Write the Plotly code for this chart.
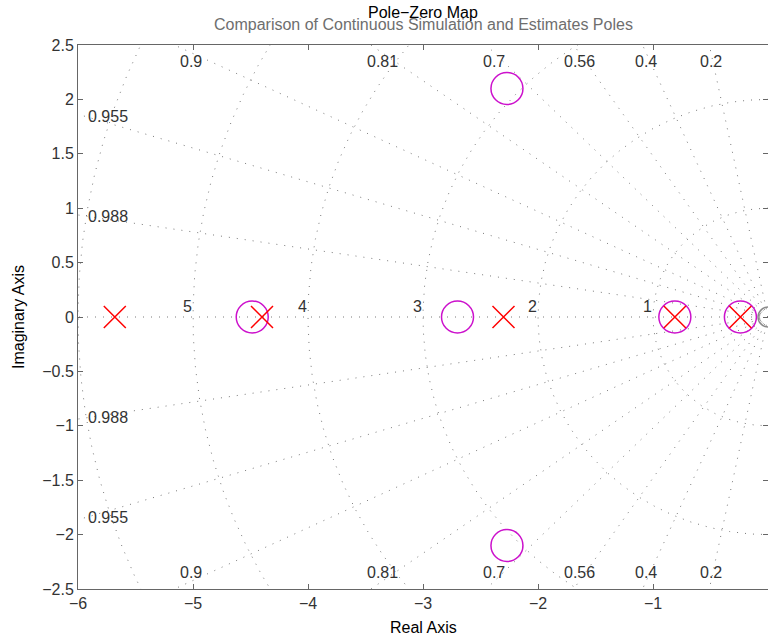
import numpy as np
import plotly.graph_objects as go

# Estimated poles (red x) and zeros (magenta o)
pole_re = [-5.68, -4.40, -2.30, -0.81, -0.24]
pole_im = [0.0, 0.0, 0.0, 0.0, 0.0]
zero_re = [-4.485, -2.70, -2.27, -2.27, -0.81, -0.24]
zero_im = [0.0, 0.0, 2.10, -2.10, 0.0, 0.0]
# Simulated system zero at the origin (grey)
sim_zero_re = [0.0]
sim_zero_im = [0.0]

# s-plane grid: damping ratios and natural frequencies
zeta_vals = [0.2, 0.4, 0.56, 0.7, 0.81, 0.9, 0.955, 0.988]
zeta_labels = ["0.2", "0.4", "0.56", "0.7", "0.81", "0.9", "0.955", "0.988"]
wn_vals = [1, 2, 3, 4, 5, 6]

x_ticks = [-6, -5, -4, -3, -2, -1, 0]
y_ticks = [-2.5, -2, -1.5, -1, -0.5, 0, 0.5, 1, 1.5, 2, 2.5]

X_MIN, X_MAX = -6.0, 0.0
Y_MIN, Y_MAX = -2.5, 2.5

FONT = "Liberation Sans, Arial, Helvetica, sans-serif"
GRID_STYLE = dict(color="#7a7a7a", width=1, dash="1px,7px")

fig = go.Figure()

# constant-damping rays (both half planes) plus the real axis
ray_x, ray_y = [], []
R = 20.0
for z in zeta_vals:
    for sgn in (1, -1):
        ray_x += [0.0, -R * z, None]
        ray_y += [0.0, sgn * R * np.sqrt(1 - z * z), None]
ray_x += [0.0, -R, None]
ray_y += [0.0, 0.0, None]
fig.add_trace(go.Scatter(x=ray_x, y=ray_y, mode="lines", line=GRID_STYLE,
                         hoverinfo="skip"))

# constant natural-frequency semicircles
th = np.linspace(np.pi / 2, 3 * np.pi / 2, 600)
circ_x, circ_y = [], []
for wn in wn_vals:
    circ_x += list(wn * np.cos(th)) + [None]
    circ_y += list(wn * np.sin(th)) + [None]
fig.add_trace(go.Scatter(x=circ_x, y=circ_y, mode="lines", line=GRID_STYLE,
                         hoverinfo="skip"))

# zeros, then poles on top
fig.add_trace(go.Scatter(x=sim_zero_re, y=sim_zero_im, mode="markers",
                         marker=dict(symbol="circle-open", size=20, color="#8a8a8a",
                                     line=dict(width=1.5, color="#8a8a8a"))))
fig.add_trace(go.Scatter(x=zero_re, y=zero_im, mode="markers",
                         marker=dict(symbol="circle-open", size=32, color="#cc11cc",
                                     line=dict(width=1.5, color="#cc11cc"))))
fig.add_trace(go.Scatter(x=pole_re, y=pole_im, mode="markers",
                         marker=dict(symbol="x-thin-open", size=22, color="#ff0000",
                                     line=dict(width=1.5, color="#ff0000"))))

annotations = []
label_font = dict(family=FONT, size=16, color="#333333")

# damping labels along the top/bottom edges or the left edge
for z, lab in zip(zeta_vals, zeta_labels):
    slope = np.tan(np.arccos(z))
    x_top = -Y_MAX / slope
    if x_top >= X_MIN:
        xl = -2.43 / slope
        for yv in (2.344, -2.344):
            annotations.append(dict(x=xl, y=yv, xref="x", yref="y", text=lab,
                                    showarrow=False, font=label_font,
                                    xanchor="center", yanchor="middle"))
    else:
        yl = -X_MIN * slope
        for yv, ys in ((yl, -2), (-yl, 2)):
            annotations.append(dict(x=X_MIN, y=yv, xref="x", yref="y", text=lab,
                                    showarrow=False, font=label_font,
                                    xanchor="left", yanchor="middle",
                                    xshift=8, yshift=ys))

# natural-frequency labels on the real axis
for wn in wn_vals:
    if -wn > X_MIN:
        annotations.append(dict(x=-wn, y=0, xref="x", yref="y", text=str(wn),
                                showarrow=False, font=label_font,
                                xanchor="right", yanchor="bottom", xshift=1))

# titles
L, T, B, H, W = 78, 45, 48, 637, 768
plot_h = H - T - B


def py(px):
    return (H - B - px) / plot_h


annotations += [
    dict(x=0.5, y=py(12), xref="paper", yref="paper", text="Pole\u2212Zero Map",
         showarrow=False, font=dict(family=FONT, size=16, color="#000000"),
         xanchor="center", yanchor="middle"),
    dict(x=0.5, y=py(25), xref="paper", yref="paper",
         text="Comparison of Continuous Simulation and Estimates Poles",
         showarrow=False, font=dict(family=FONT, size=16, color="#6e6e6e"),
         xanchor="center", yanchor="middle"),
    dict(x=0.5, y=py(627), xref="paper", yref="paper", text="Real Axis",
         showarrow=False, font=dict(family=FONT, size=16, color="#000000"),
         xanchor="center", yanchor="middle"),
    dict(x=(18 - L) / (W - L), y=0.5, xref="paper", yref="paper", text="Imaginary Axis",
         showarrow=False, textangle=-90, font=dict(family=FONT, size=16, color="#000000"),
         xanchor="center", yanchor="middle"),
]

axis_common = dict(showline=True, linecolor="#666666", linewidth=1, mirror="ticks",
                   ticks="inside", ticklen=5, tickcolor="#666666", showgrid=False,
                   zeroline=False, tickfont=dict(family=FONT, size=16, color="#333333"),
                   automargin=False)

fig.update_layout(
    width=W, height=H,
    margin=dict(l=L, r=0, t=T, b=B),
    paper_bgcolor="white", plot_bgcolor="white",
    showlegend=False,
    annotations=annotations,
    xaxis=dict(range=[X_MIN, X_MAX], tickvals=x_ticks, **axis_common),
    yaxis=dict(range=[Y_MIN, Y_MAX], tickvals=y_ticks, **axis_common),
)

fig.write_html("out.html")
